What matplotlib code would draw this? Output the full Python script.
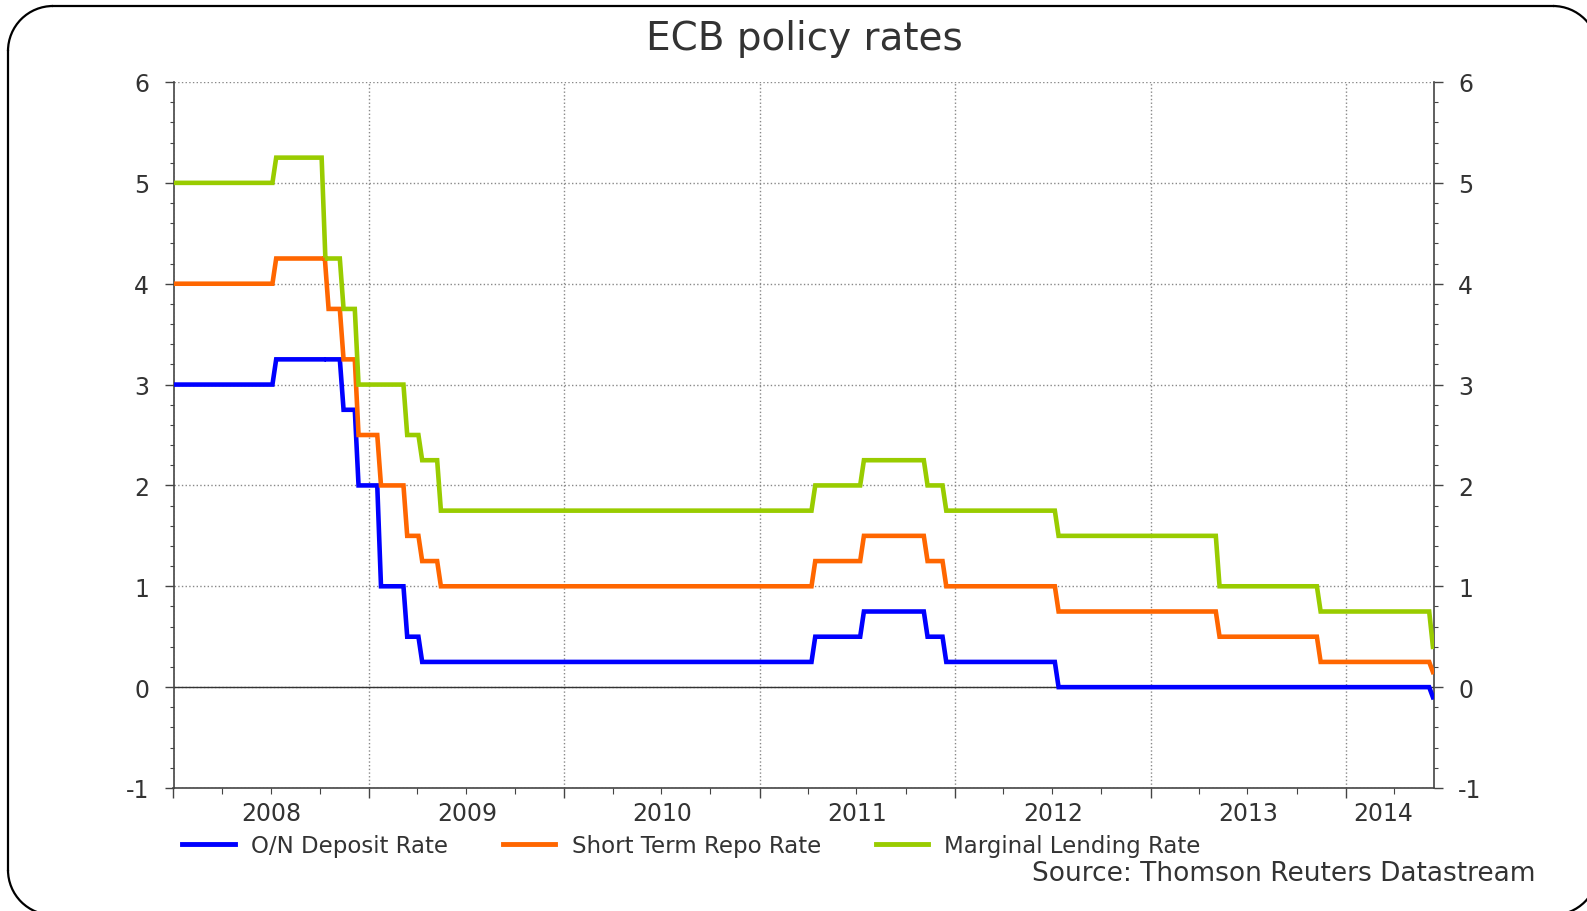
import numpy as np
import matplotlib
matplotlib.use('Agg')
import matplotlib.pyplot as plt
import matplotlib.dates as mdates
from matplotlib.patches import Arc
import datetime as dt

plt.rcParams['axes.unicode_minus'] = False

# ECB rate decisions (effective dates) and the three corridor rates
change_dates = ['2008-01-01', '2008-07-09', '2008-10-09', '2008-10-15', '2008-11-12',
                '2008-12-10', '2009-01-21', '2009-03-11', '2009-04-08', '2009-05-13',
                '2011-04-13', '2011-07-13', '2011-11-09', '2011-12-14', '2012-07-11',
                '2013-05-08', '2013-11-13', '2014-06-11']
deposit = [3.00, 3.25, 3.25, 3.25, 2.75, 2.00, 1.00, 0.50, 0.25, 0.25,
           0.50, 0.75, 0.50, 0.25, 0.00, 0.00, 0.00, -0.10]
repo = [4.00, 4.25, 4.25, 3.75, 3.25, 2.50, 2.00, 1.50, 1.25, 1.00,
        1.25, 1.50, 1.25, 1.00, 0.75, 0.50, 0.25, 0.15]
lending = [5.00, 5.25, 4.25, 4.25, 3.75, 3.00, 3.00, 2.50, 2.25, 1.75,
           2.00, 2.25, 2.00, 1.75, 1.50, 1.00, 0.75, 0.40]
end_date = '2014-06-13'

labels = ['O/N Deposit Rate', 'Short Term Repo Rate', 'Marginal Lending Rate']
colors = ['#0000ff', '#ff6600', '#99cc00']
years = [2008, 2009, 2010, 2011, 2012, 2013, 2014]


def weekly_path(dates, vals, end):
    # weekly series: the week before keeps the old rate, the week after has the new one
    d = [dt.datetime.strptime(s, '%Y-%m-%d') for s in dates]
    xs = [d[0]]
    ys = [vals[0]]
    for i in range(1, len(d)):
        xs.append(d[i] - dt.timedelta(days=5))
        ys.append(vals[i - 1])
        xs.append(d[i] + dt.timedelta(days=2))
        ys.append(vals[i])
    e = dt.datetime.strptime(end, '%Y-%m-%d')
    if xs[-1] < e:
        xs.append(e)
        ys.append(vals[-1])
    return xs, ys


W, H = 1587, 912
fig = plt.figure(figsize=(W / 100, H / 100), dpi=100)

# rounded frame around the whole picture (runs off the right and bottom edge)
bg = fig.add_axes([0, 0, 1, 1])
bg.set_xlim(0, W)
bg.set_ylim(H, 0)
bg.axis('off')
L, T, R, B, r = 8, 7, 1598, 916, 45
fk = dict(color='black', lw=1.6)
bg.plot([L + r, R - r], [T, T], **fk)
bg.plot([L + r, R - r], [B, B], **fk)
bg.plot([L, L], [T + r, B - r], **fk)
bg.plot([R, R], [T + r, B - r], **fk)
for cx, cy, a1, a2 in [(L + r, T + r, 180, 270), (R - r, T + r, 270, 360),
                       (R - r, B - r, 0, 90), (L + r, B - r, 90, 180)]:
    bg.add_patch(Arc((cx, cy), 2 * r, 2 * r, theta1=a1, theta2=a2, **fk))

ax = fig.add_axes([173.5 / W, 1 - 789 / H, (1434 - 173.5) / W, (789 - 83) / H])
txt = '#333333'

for vals, lab, col in zip([deposit, repo, lending], labels, colors):
    xs, ys = weekly_path(change_dates, vals, end_date)
    ax.plot(xs, ys, color=col, lw=3.3, label=lab, solid_joinstyle='miter', zorder=3)

x0 = dt.datetime(2008, 1, 1)
x1 = dt.datetime(2014, 6, 15)
ax.set_xlim(x0, x1)
ax.set_ylim(-1, 6)

# y axis: both sides
ax.set_yticks(range(-1, 7))
ax.set_yticks(np.arange(-1, 6.01, 0.2), minor=True)
ax.tick_params(axis='y', which='major', length=6.5, width=1, color='#444444',
               labelsize=17, labelcolor=txt, pad=11, left=True, right=True,
               labelleft=True, labelright=True)
ax.tick_params(axis='y', which='minor', length=3, width=0.8, color='#444444',
               left=True, right=True)

# x axis: year boundaries as major ticks, quarters as minor
ax.xaxis.set_major_locator(mdates.YearLocator())
ax.xaxis.set_major_formatter(plt.NullFormatter())
ax.xaxis.set_minor_locator(mdates.MonthLocator(bymonth=[4, 7, 10]))
ax.xaxis.set_minor_formatter(plt.NullFormatter())
ax.tick_params(axis='x', which='major', length=7, width=1, color='#444444')
ax.tick_params(axis='x', which='minor', length=4, width=0.8, color='#444444')

# year names centred in each year (last one a little left of the short stub's middle)
for y in years:
    a = max(mdates.date2num(dt.datetime(y, 1, 1)), mdates.date2num(x0))
    b = min(mdates.date2num(dt.datetime(y + 1, 1, 1)), mdates.date2num(x1))
    xm = (a + b) / 2 if b - a > 300 else a + 0.42 * (b - a)
    ax.text(xm, -0.019, str(y), transform=ax.get_xaxis_transform(),
            ha='center', va='top', fontsize=17, color=txt)

ax.grid(True, which='major', color='#888888', ls=':', lw=1)
ax.axhline(0, color='#333333', lw=1, zorder=2)

for s in ['left', 'right', 'bottom']:
    ax.spines[s].set_color('#444444')
    ax.spines[s].set_linewidth(1.2)
ax.spines['top'].set_visible(False)

fig.text(804 / W, 1 - 39 / H, 'ECB policy rates', fontsize=28, color=txt,
         ha='center', va='center')

leg = ax.legend(loc='center left', bbox_to_anchor=(182 / W, 1 - 847 / H),
                bbox_transform=fig.transFigure, ncol=3, frameon=False, fontsize=16.5,
                handlelength=2.3, handletextpad=0.7, columnspacing=2.4,
                borderaxespad=0, borderpad=0)
for t in leg.get_texts():
    t.set_color(txt)
for l in leg.get_lines():
    l.set_linewidth(3.5)

fig.text(1536 / W, 1 - 874 / H, 'Source: Thomson Reuters Datastream', fontsize=19,
         color=txt, ha='right', va='center')

fig.savefig('out.png', dpi=100)
